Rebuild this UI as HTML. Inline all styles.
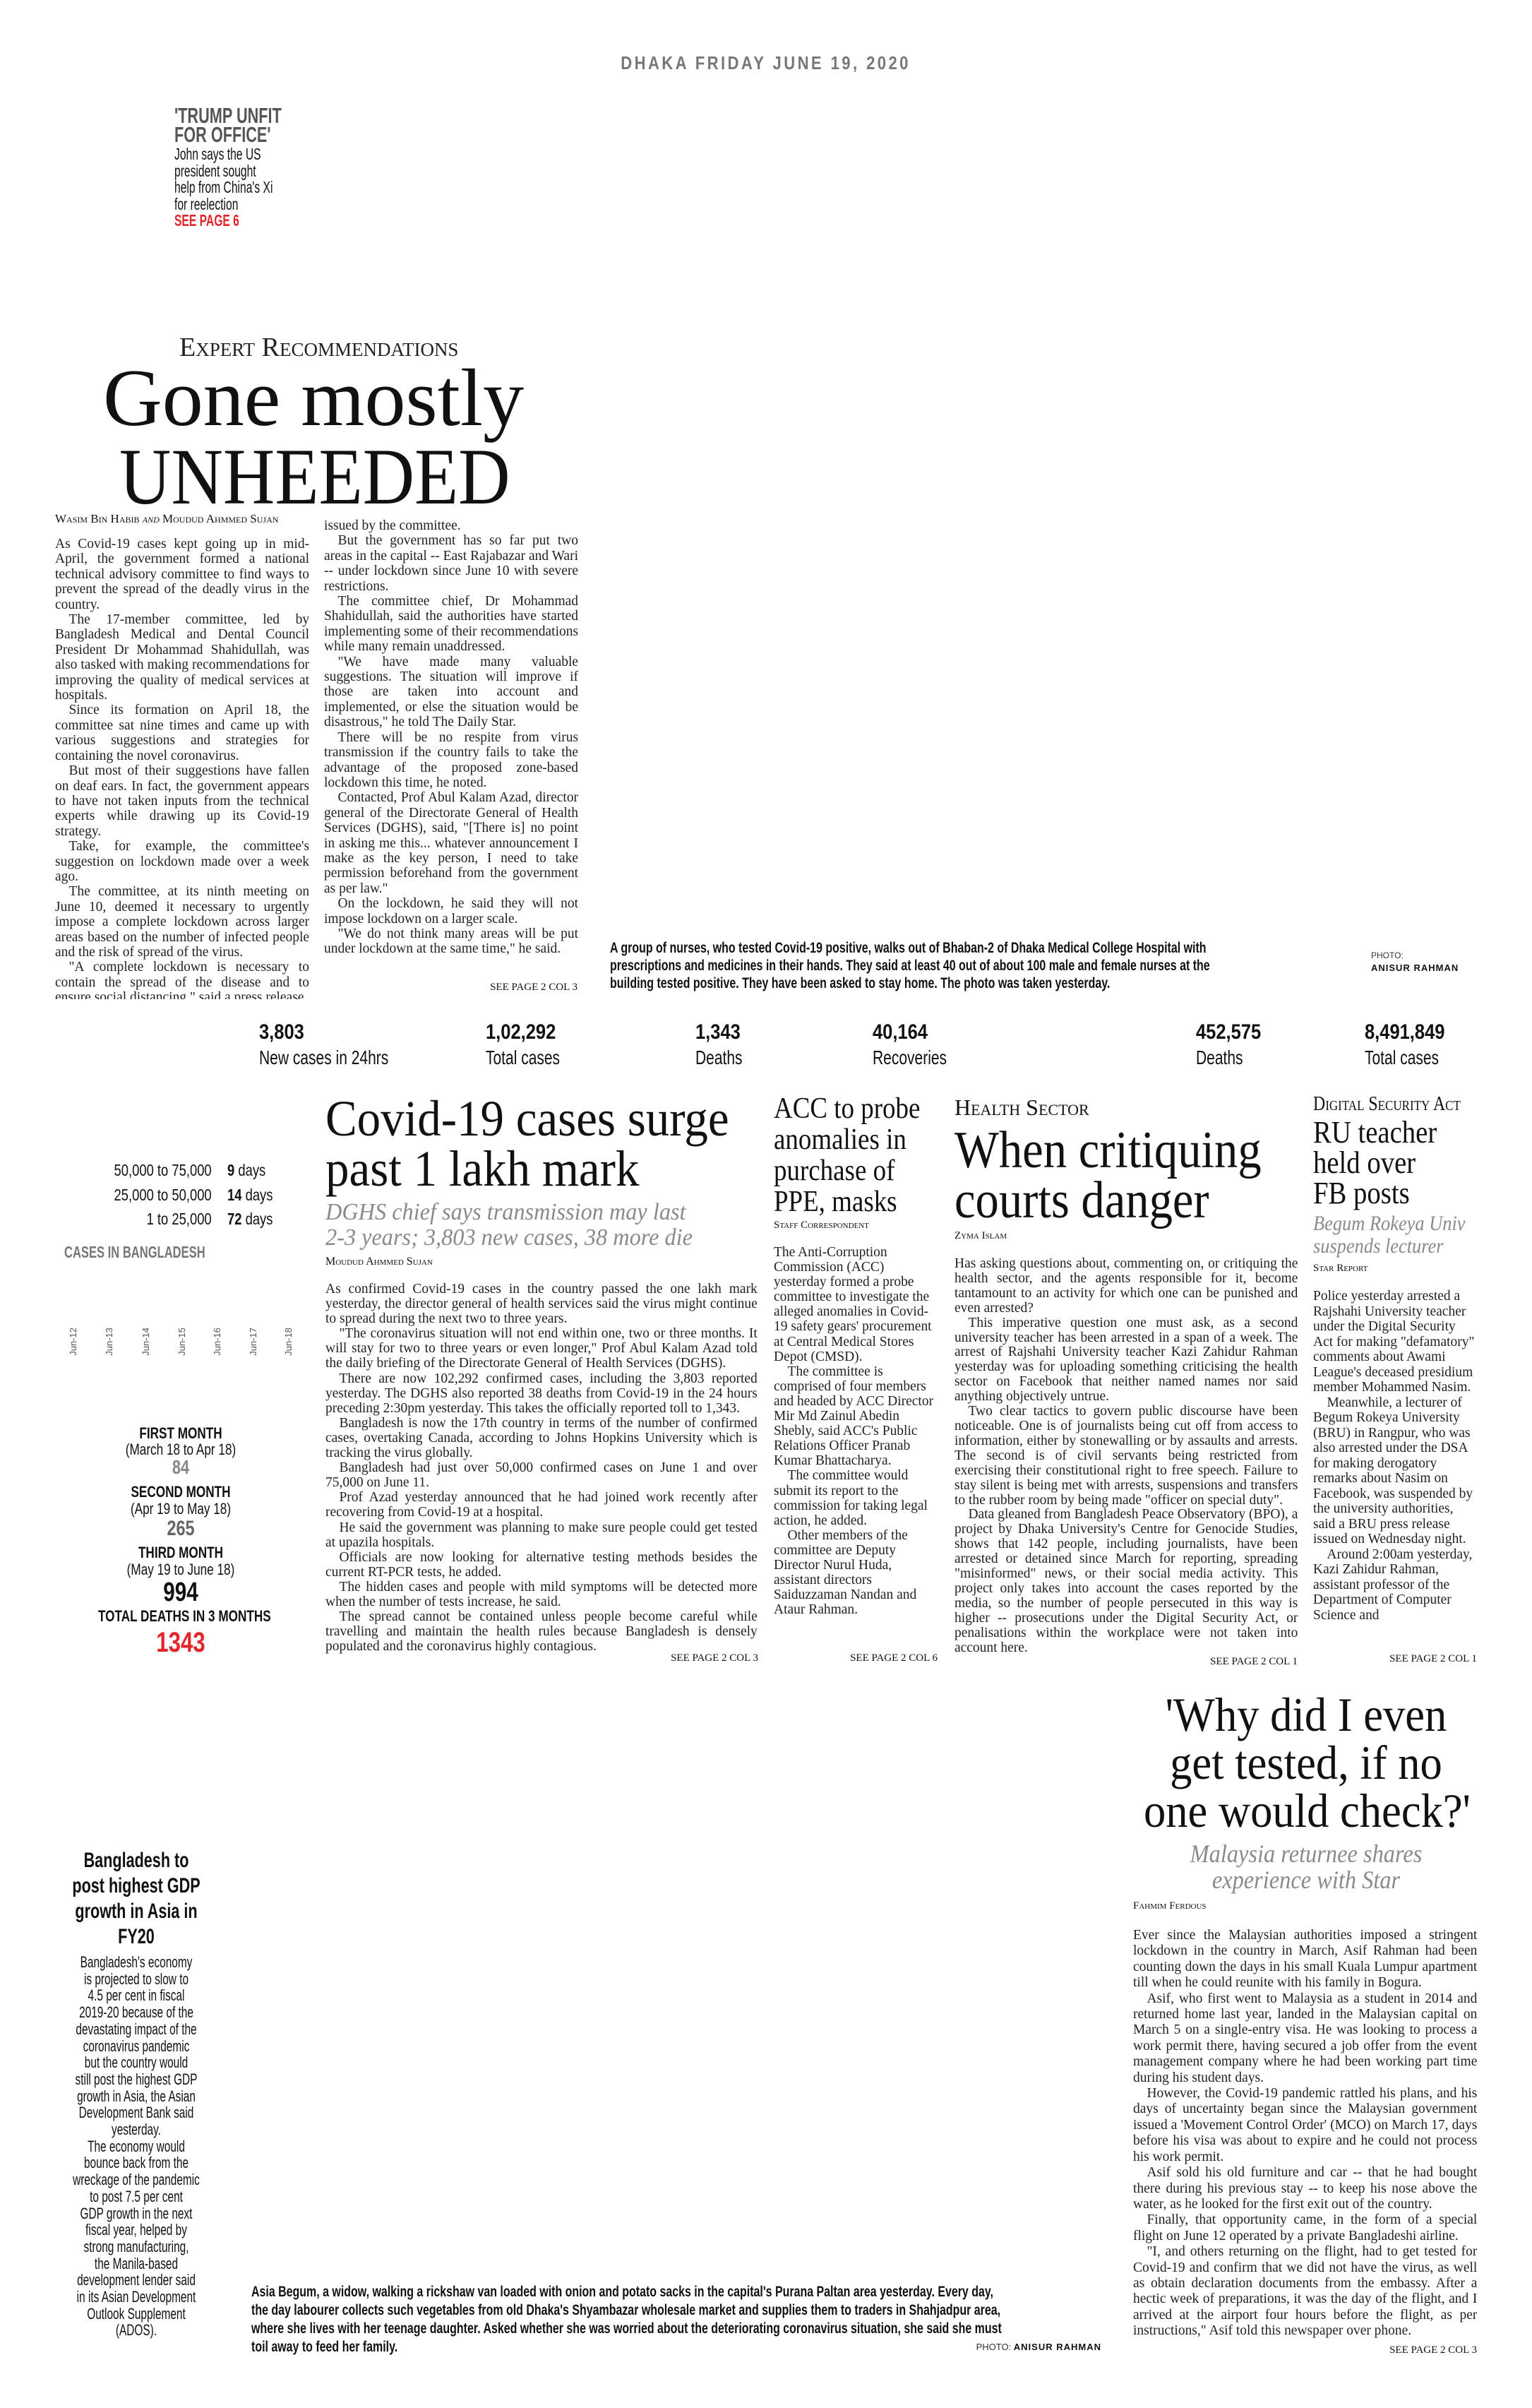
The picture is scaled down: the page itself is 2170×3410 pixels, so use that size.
<!DOCTYPE html>
<html><head><meta charset="utf-8"><style>
*{margin:0;padding:0;box-sizing:border-box}
body{width:2170px;height:3410px;background:#fff;position:relative;overflow:hidden;color:#111}
.a{position:absolute;white-space:nowrap}
.s{font-family:"Liberation Serif",serif}
.ss{font-family:"Liberation Sans",sans-serif}
.cn{transform-origin:0 0}
.col{position:absolute;font-family:"Liberation Serif",serif;font-size:20.5px;text-align:justify;transform:scaleX(.95);transform-origin:0 0;overflow:hidden;color:#222}
.col p{text-indent:1em}
.sc{font-variant:small-caps}
.gray{color:#8a8a8a}
.red{color:#e2262b}
.see{font-family:"Liberation Serif",serif;font-size:15px;position:absolute;white-space:nowrap}
</style></head><body>

<div class="a ss" style="left:0;width:2170px;top:74px;text-align:center;font-size:26px;font-weight:bold;letter-spacing:4px;color:#777"><span style="display:inline-block;transform:scaleX(.85)">DHAKA FRIDAY JUNE 19, 2020</span></div>

<div class="a ss cn" style="left:247px;top:150px;transform:scaleX(.7);font-size:31px;font-weight:bold;line-height:27px;color:#555">'TRUMP UNFIT<br>FOR OFFICE'</div>
<div class="a ss cn" style="left:247px;top:207px;transform:scaleX(.68);font-size:23px;line-height:23.5px;color:#111">John says the US<br>president sought<br>help from China's Xi<br>for reelection<br><b class="red">SEE PAGE 6</b></div>

<div class="a s sc" style="left:254px;top:470px;font-size:38px;color:#222">Expert Recommendations</div>
<div class="a s" style="left:146px;top:506px;font-size:116px;line-height:116px">Gone mostly</div>
<div class="a s cn" style="left:169px;top:619px;font-size:113px;line-height:113px;transform:scaleX(.9)">UNHEEDED</div>
<div class="a s sc" style="left:78px;top:725px;font-size:17px">Wasim Bin Habib <i>and</i> Moudud Ahmmed Sujan</div>

<div class="col" style="left:78px;top:760px;width:379px;height:655px;line-height:21.4px">
<p style="text-indent:0">As Covid-19 cases kept going up in mid-April, the government formed a national technical advisory committee to find ways to prevent the spread of the deadly virus in the country.</p>
<p>The 17-member committee, led by Bangladesh Medical and Dental Council President Dr Mohammad Shahidullah, was also tasked with making recommendations for improving the quality of medical services at hospitals.</p>
<p>Since its formation on April 18, the committee sat nine times and came up with various suggestions and strategies for containing the novel coronavirus.</p>
<p>But most of their suggestions have fallen on deaf ears. In fact, the government appears to have not taken inputs from the technical experts while drawing up its Covid-19 strategy.</p>
<p>Take, for example, the committee's suggestion on lockdown made over a week ago.</p>
<p>The committee, at its ninth meeting on June 10, deemed it necessary to urgently impose a complete lockdown across larger areas based on the number of infected people and the risk of spread of the virus.</p>
<p>"A complete lockdown is necessary to contain the spread of the disease and to ensure social distancing," said a press release</p>
</div>
<div class="col" style="left:459px;top:734px;width:379px;height:655px;line-height:21.4px">
<p style="text-indent:0">issued by the committee.</p>
<p>But the government has so far put two areas in the capital -- East Rajabazar and Wari -- under lockdown since June 10 with severe restrictions.</p>
<p>The committee chief, Dr Mohammad Shahidullah, said the authorities have started implementing some of their recommendations while many remain unaddressed.</p>
<p>"We have made many valuable suggestions. The situation will improve if those are taken into account and implemented, or else the situation would be disastrous," he told The Daily Star.</p>
<p>There will be no respite from virus transmission if the country fails to take the advantage of the proposed zone-based lockdown this time, he noted.</p>
<p>Contacted, Prof Abul Kalam Azad, director general of the Directorate General of Health Services (DGHS), said, "[There is] no point in asking me this... whatever announcement I make as the key person, I need to take permission beforehand from the government as per law."</p>
<p>On the lockdown, he said they will not impose lockdown on a larger scale.</p>
<p>"We do not think many areas will be put under lockdown at the same time," he said.</p>
</div>
<div class="see" style="right:1352px;top:1390px">SEE PAGE 2 COL 3</div>

<div class="a ss cn" style="left:864px;top:1330px;transform:scaleX(.76);font-size:21px;font-weight:bold;line-height:25px">A group of nurses, who tested Covid-19 positive, walks out of Bhaban-2 of Dhaka Medical College Hospital with<br>prescriptions and medicines in their hands. They said at least 40 out of about 100 male and female nurses at the<br>building tested positive. They have been asked to stay home. The photo was taken yesterday.</div>
<div class="a ss" style="left:1942px;top:1346px;font-size:12px;color:#333">PHOTO:</div>
<div class="a ss" style="left:1942px;top:1363px;font-size:13px;font-weight:bold;letter-spacing:1px">ANISUR RAHMAN</div>

<!-- stats -->
<div class="a ss cn" style="left:367px;top:1445px;transform:scaleX(.85);font-size:30px;font-weight:bold">3,803</div>
<div class="a ss cn" style="left:367px;top:1482px;transform:scaleX(.75);font-size:28px">New cases in 24hrs</div>
<div class="a ss cn" style="left:688px;top:1445px;transform:scaleX(.85);font-size:30px;font-weight:bold">1,02,292</div>
<div class="a ss cn" style="left:688px;top:1482px;transform:scaleX(.75);font-size:28px">Total cases</div>
<div class="a ss cn" style="left:985px;top:1445px;transform:scaleX(.85);font-size:30px;font-weight:bold">1,343</div>
<div class="a ss cn" style="left:985px;top:1482px;transform:scaleX(.75);font-size:28px">Deaths</div>
<div class="a ss cn" style="left:1236px;top:1445px;transform:scaleX(.85);font-size:30px;font-weight:bold">40,164</div>
<div class="a ss cn" style="left:1236px;top:1482px;transform:scaleX(.75);font-size:28px">Recoveries</div>
<div class="a ss cn" style="left:1694px;top:1445px;transform:scaleX(.85);font-size:30px;font-weight:bold">452,575</div>
<div class="a ss cn" style="left:1694px;top:1482px;transform:scaleX(.75);font-size:28px">Deaths</div>
<div class="a ss cn" style="left:1933px;top:1445px;transform:scaleX(.85);font-size:30px;font-weight:bold">8,491,849</div>
<div class="a ss cn" style="left:1933px;top:1482px;transform:scaleX(.75);font-size:28px">Total cases</div>

<!-- left chart -->
<div class="a ss" style="left:60px;width:240px;top:1640px;text-align:right;font-size:23px;line-height:34.5px"><span style="display:inline-block;transform:scaleX(.8);transform-origin:100% 0">50,000 to 75,000<br>25,000 to 50,000<br>1 to 25,000</span></div>
<div class="a ss cn" style="left:322px;top:1640px;transform:scaleX(.8);font-size:23px;line-height:34.5px"><b>9</b> days<br><b>14</b> days<br><b>72</b> days</div>
<div class="a ss cn gray" style="left:91px;top:1760px;transform:scaleX(.72);font-size:23px;font-weight:bold;color:#777">CASES IN BANGLADESH</div>
<div class="a ss" style="left:96px;top:1880px;font-size:13px;color:#555;line-height:16px">
<span style="position:absolute;left:0;writing-mode:vertical-rl;transform:rotate(180deg)">Jun-12</span>
<span style="position:absolute;left:51px;writing-mode:vertical-rl;transform:rotate(180deg)">Jun-13</span>
<span style="position:absolute;left:103px;writing-mode:vertical-rl;transform:rotate(180deg)">Jun-14</span>
<span style="position:absolute;left:154px;writing-mode:vertical-rl;transform:rotate(180deg)">Jun-15</span>
<span style="position:absolute;left:204px;writing-mode:vertical-rl;transform:rotate(180deg)">Jun-16</span>
<span style="position:absolute;left:255px;writing-mode:vertical-rl;transform:rotate(180deg)">Jun-17</span>
<span style="position:absolute;left:305px;writing-mode:vertical-rl;transform:rotate(180deg)">Jun-18</span>
</div>
<div class="a ss" style="left:106px;width:300px;top:2019px;text-align:center;line-height:1">
<div style="transform:scaleX(.78)">
<div style="font-size:22px;font-weight:bold;height:23px">FIRST MONTH</div>
<div style="font-size:22px;height:22px">(March 18 to Apr 18)</div>
<div style="font-size:28px;font-weight:bold;color:#888;height:38px">84</div>
<div style="font-size:22px;font-weight:bold;height:24px">SECOND MONTH</div>
<div style="font-size:22px;height:24px">(Apr 19 to May 18)</div>
<div style="font-size:30px;font-weight:bold;color:#666;height:38px">265</div>
<div style="font-size:22px;font-weight:bold;height:24px">THIRD MONTH</div>
<div style="font-size:22px;height:24px">(May 19 to June 18)</div>
<div style="font-size:38px;font-weight:bold;height:42px">994</div>
<div style="font-size:22px;font-weight:bold;height:28px">TOTAL DEATHS IN 3 MONTHS</div>
<div style="font-size:40px;font-weight:bold;color:#e2262b">1343</div>
</div></div>

<!-- covid -->
<div class="a s cn" style="left:461px;top:1548px;font-size:72px;line-height:72px;transform:scaleX(.93)">Covid-19 cases surge</div>
<div class="a s cn" style="left:461px;top:1619px;font-size:72px;line-height:72px;transform:scaleX(.93)">past 1 lakh mark</div>
<div class="a s cn gray" style="left:461px;top:1699px;font-size:34px;line-height:36px;font-style:italic;transform:scaleX(.95)">DGHS chief says transmission may last<br>2-3 years; 3,803 new cases, 38 more die</div>
<div class="a s sc" style="left:461px;top:1778px;font-size:16px">Moudud Ahmmed Sujan</div>
<div class="col" style="left:461px;top:1815px;width:644px;height:530px;line-height:21.1px">
<p style="text-indent:0">As confirmed Covid-19 cases in the country passed the one lakh mark yesterday, the director general of health services said the virus might continue to spread during the next two to three years.</p>
<p>"The coronavirus situation will not end within one, two or three months. It will stay for two to three years or even longer," Prof Abul Kalam Azad told the daily briefing of the Directorate General of Health Services (DGHS).</p>
<p>There are now 102,292 confirmed cases, including the 3,803 reported yesterday. The DGHS also reported 38 deaths from Covid-19 in the 24 hours preceding 2:30pm yesterday. This takes the officially reported toll to 1,343.</p>
<p>Bangladesh is now the 17th country in terms of the number of confirmed cases, overtaking Canada, according to Johns Hopkins University which is tracking the virus globally.</p>
<p>Bangladesh had just over 50,000 confirmed cases on June 1 and over 75,000 on June 11.</p>
<p>Prof Azad yesterday announced that he had joined work recently after recovering from Covid-19 at a hospital.</p>
<p>He said the government was planning to make sure people could get tested at upazila hospitals.</p>
<p>Officials are now looking for alternative testing methods besides the current RT-PCR tests, he added.</p>
<p>The hidden cases and people with mild symptoms will be detected more when the number of tests increase, he said.</p>
<p>The spread cannot be contained unless people become careful while travelling and maintain the health rules because Bangladesh is densely populated and the coronavirus highly contagious.</p>
</div>
<div class="see" style="right:1096px;top:2340px">SEE PAGE 2 COL 3</div>

<!-- ACC -->
<div class="a s cn" style="left:1096px;top:1548px;font-size:42px;line-height:44px;transform:scaleX(.88)">ACC to probe<br>anomalies in<br>purchase of<br>PPE, masks</div>
<div class="a s sc" style="left:1096px;top:1727px;font-size:15px">Staff Correspondent</div>
<div class="col" style="left:1096px;top:1763px;width:244px;height:575px;line-height:21.1px;text-align:left">
<p style="text-indent:0">The Anti-Corruption Commission (ACC) yesterday formed a probe committee to investigate the alleged anomalies in Covid-19 safety gears' procurement at Central Medical Stores Depot (CMSD).</p>
<p>The committee is comprised of four members and headed by ACC Director Mir Md Zainul Abedin Shebly, said ACC's Public Relations Officer Pranab Kumar Bhattacharya.</p>
<p>The committee would submit its report to the commission for taking legal action, he added.</p>
<p>Other members of the committee are Deputy Director Nurul Huda, assistant directors Saiduzzaman Nandan and Ataur Rahman.</p>
</div>
<div class="see" style="right:842px;top:2340px">SEE PAGE 2 COL 6</div>

<!-- Health -->
<div class="a s sc" style="left:1352px;top:1550px;font-size:32px">Health Sector</div>
<div class="a s cn" style="left:1352px;top:1592px;font-size:74px;line-height:74px;transform:scaleX(.9)">When critiquing</div>
<div class="a s cn" style="left:1352px;top:1663px;font-size:74px;line-height:74px;transform:scaleX(.9)">courts danger</div>
<div class="a s sc" style="left:1352px;top:1742px;font-size:15px">Zyma Islam</div>
<div class="col" style="left:1352px;top:1779px;width:512px;height:566px;line-height:20.9px">
<p style="text-indent:0">Has asking questions about, commenting on, or critiquing the health sector, and the agents responsible for it, become tantamount to an activity for which one can be punished and even arrested?</p>
<p>This imperative question one must ask, as a second university teacher has been arrested in a span of a week. The arrest of Rajshahi University teacher Kazi Zahidur Rahman yesterday was for uploading something criticising the health sector on Facebook that neither named names nor said anything objectively untrue.</p>
<p>Two clear tactics to govern public discourse have been noticeable. One is of journalists being cut off from access to information, either by stonewalling or by assaults and arrests. The second is of civil servants being restricted from exercising their constitutional right to free speech. Failure to stay silent is being met with arrests, suspensions and transfers to the rubber room by being made "officer on special duty".</p>
<p>Data gleaned from Bangladesh Peace Observatory (BPO), a project by Dhaka University's Centre for Genocide Studies, shows that 142 people, including journalists, have been arrested or detained since March for reporting, spreading "misinformed" news, or their social media activity. This project only takes into account the cases reported by the media, so the number of people persecuted in this way is higher -- prosecutions under the Digital Security Act, or penalisations within the workplace were not taken into account here.</p>
</div>
<div class="see" style="right:332px;top:2345px">SEE PAGE 2 COL 1</div>

<!-- Digital -->
<div class="a s sc" style="left:1860px;top:1548px;font-size:28px;transform:scaleX(.85);transform-origin:0 0">Digital Security Act</div>
<div class="a s cn" style="left:1860px;top:1582px;font-size:44px;line-height:43px;transform:scaleX(.88)">RU teacher<br>held over<br>FB posts</div>
<div class="a s cn gray" style="left:1860px;top:1717px;font-size:30px;line-height:32px;font-style:italic;transform:scaleX(.88)">Begum Rokeya Univ<br>suspends lecturer</div>
<div class="a s sc" style="left:1860px;top:1788px;font-size:15px">Star Report</div>
<div class="col" style="left:1860px;top:1825px;width:244px;height:516px;line-height:21.5px;text-align:left">
<p style="text-indent:0">Police yesterday arrested a Rajshahi University teacher under the Digital Security Act for making "defamatory" comments about Awami League's deceased presidium member Mohammed Nasim.</p>
<p>Meanwhile, a lecturer of Begum Rokeya University (BRU) in Rangpur, who was also arrested under the DSA for making derogatory remarks about Nasim on Facebook, was suspended by the university authorities, said a BRU press release issued on Wednesday night.</p>
<p>Around 2:00am yesterday, Kazi Zahidur Rahman, assistant professor of the Department of Computer Science and</p>
</div>
<div class="see" style="right:78px;top:2341px">SEE PAGE 2 COL 1</div>

<!-- Why -->
<div class="a s" style="left:1600px;width:500px;top:2394px;text-align:center;font-size:68px;line-height:68px"><div style="transform:scaleX(.92)">'Why did I even<br>get tested, if no<br>one would check?'</div></div>
<div class="a s gray" style="left:1600px;width:500px;top:2607px;text-align:center;font-size:36px;line-height:37px;font-style:italic"><div style="transform:scaleX(.9)">Malaysia returnee shares<br>experience with Star</div></div>
<div class="a s sc" style="left:1605px;top:2691px;font-size:15px">Fahmim Ferdous</div>
<div class="col" style="left:1605px;top:2729px;width:513px;height:585px;line-height:22.4px">
<p style="text-indent:0">Ever since the Malaysian authorities imposed a stringent lockdown in the country in March, Asif Rahman had been counting down the days in his small Kuala Lumpur apartment till when he could reunite with his family in Bogura.</p>
<p>Asif, who first went to Malaysia as a student in 2014 and returned home last year, landed in the Malaysian capital on March 5 on a single-entry visa. He was looking to process a work permit there, having secured a job offer from the event management company where he had been working part time during his student days.</p>
<p>However, the Covid-19 pandemic rattled his plans, and his days of uncertainty began since the Malaysian government issued a 'Movement Control Order' (MCO) on March 17, days before his visa was about to expire and he could not process his work permit.</p>
<p>Asif sold his old furniture and car -- that he had bought there during his previous stay -- to keep his nose above the water, as he looked for the first exit out of the country.</p>
<p>Finally, that opportunity came, in the form of a special flight on June 12 operated by a private Bangladeshi airline.</p>
<p>"I, and others returning on the flight, had to get tested for Covid-19 and confirm that we did not have the virus, as well as obtain declaration documents from the embassy. After a hectic week of preparations, it was the day of the flight, and I arrived at the airport four hours before the flight, as per instructions," Asif told this newspaper over phone.</p>
</div>
<div class="see" style="right:78px;top:3320px">SEE PAGE 2 COL 3</div>

<!-- GDP -->
<div class="a ss" style="left:43px;width:300px;top:2617px;text-align:center;font-size:30px;font-weight:bold;line-height:36px"><div style="transform:scaleX(.72)">Bangladesh to<br>post highest GDP<br>growth in Asia in<br>FY20</div></div>
<div class="a ss" style="left:43px;width:300px;top:2767px;text-align:center;font-size:22px;line-height:23.7px"><div style="transform:scaleX(.7)">Bangladesh's economy<br>is projected to slow to<br>4.5 per cent in fiscal<br>2019-20 because of the<br>devastating impact of the<br>coronavirus pandemic<br>but the country would<br>still post the highest GDP<br>growth in Asia, the Asian<br>Development Bank said<br>yesterday.<br>The economy would<br>bounce back from the<br>wreckage of the pandemic<br>to post 7.5 per cent<br>GDP growth in the next<br>fiscal year, helped by<br>strong manufacturing,<br>the Manila-based<br>development lender said<br>in its Asian Development<br>Outlook Supplement<br>(ADOS).</div></div>

<div class="a ss cn" style="left:356px;top:3233px;transform:scaleX(.76);font-size:21px;font-weight:bold;line-height:26px">Asia Begum, a widow, walking a rickshaw van loaded with onion and potato sacks in the capital's Purana Paltan area yesterday. Every day,<br>the day labourer collects such vegetables from old Dhaka's Shyambazar wholesale market and supplies them to traders in Shahjadpur area,<br>where she lives with her teenage daughter. Asked whether she was worried about the deteriorating coronavirus situation, she said she must<br>toil away to feed her family.</div>
<div class="a ss" style="right:610px;top:3316px;font-size:13px;color:#333">PHOTO: <b style="color:#111;letter-spacing:1px">ANISUR RAHMAN</b></div>
</body></html>
